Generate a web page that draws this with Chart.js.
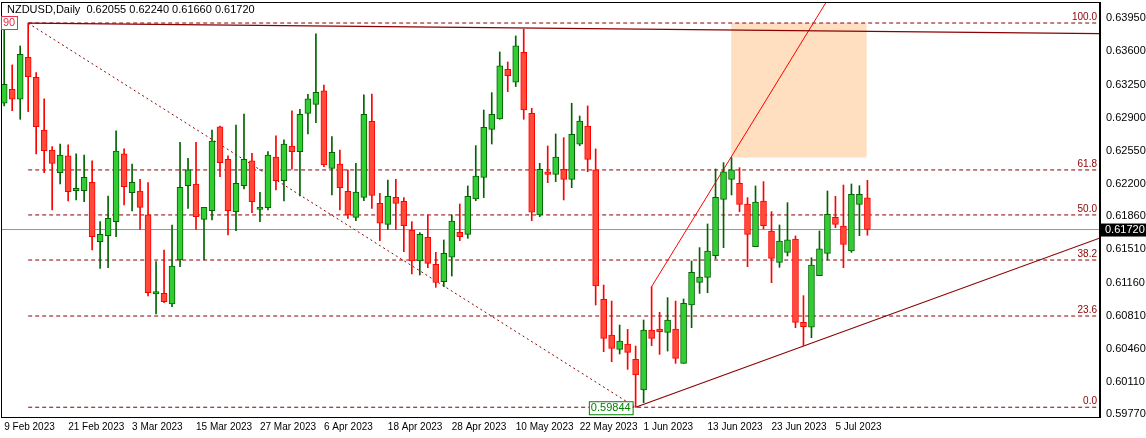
<!DOCTYPE html>
<html><head><meta charset="utf-8">
<script src="https://cdn.jsdelivr.net/npm/chart.js@4"></script>
<style>html,body{margin:0;padding:0;background:#fff}#w{width:1146px;height:438px}</style>
</head><body><div id="w"><canvas id="c"></canvas></div>
<script>
const title = "NZDUSD,Daily  0.62055 0.62240 0.61660 0.61720";
const opens = [.63053,.63201,.63095,.63539,.63327,.62771,.6256,.62321,.62497,.62131,.62131,.62219,.61592,.61655,.61803,.62518,.62109,.62127,.61874,.61039,.61046,.60934,.61398,.62183,.62201,.61828,.61919,.62803,.62461,.61909,.62183,.62444,.61933,.61951,.62486,.62236,.62602,.62542,.62947,.63042,.63183,.62366,.62412,.62124,.61849,.6206,.62863,.61997,.61775,.6206,.62018,.61715,.61388,.61638,.61353,.6117,.61427,.61691,.61669,.62043,.62271,.62778,.62887,.63412,.63275,.63591,.62947,.61874,.62328,.62303,.62356,.6225,.6262,.62813,.62349,.60983,.60606,.60455,.60511,.60349,.60026,.60659,.6067,.60635,.6067,.60307,.60923,.61163,.61215,.61444,.62039,.6225,.62208,.6199,.61539,.62021,.61705,.61374,.61479,.6162,.6074,.60688,.61233,.61469,.61849,.61757,.61493,.61986,.62055];
const highs = [.63898,.63458,.63658,.63898,.63377,.63099,.62595,.62623,.62613,.62518,.62507,.62444,.61803,.62074,.62761,.62571,.62412,.6225,.62215,.61381,.61504,.61768,.62641,.62472,.62641,.61954,.62771,.62813,.62497,.62824,.6294,.62525,.62113,.62542,.62708,.62666,.62972,.62989,.63148,.63785,.63246,.62701,.6256,.62349,.62419,.63141,.63151,.62102,.62243,.6225,.62057,.61803,.61687,.61874,.61479,.6161,.61874,.6199,.6218,.62606,.62982,.63165,.63595,.63489,.63764,.63834,.63,.62419,.62602,.62729,.6269,.63053,.62919,.63025,.62571,.61134,.60965,.60712,.60666,.6049,.60765,.61117,.60846,.61001,.60965,.60987,.61388,.61529,.61779,.62359,.62426,.62479,.62373,.62057,.6218,.62226,.61909,.61768,.62004,.61652,.61022,.61423,.61705,.62127,.6207,.6219,.62201,.62183,.6224];
const lows = [.63025,.62975,.62884,.62965,.62518,.62321,.61926,.62201,.62021,.62032,.62014,.61504,.6131,.61317,.61645,.61979,.61916,.61722,.61018,.60828,.60948,.60906,.61328,.61944,.61722,.61398,.61821,.62278,.61662,.61708,.62148,.61898,.61803,.61926,.62138,.62021,.62356,.62074,.62729,.62849,.62384,.62085,.61926,.61838,.61814,.62025,.61944,.61603,.61722,.61722,.61486,.61251,.6124,.61317,.6111,.61117,.61229,.61603,.61627,.62025,.62057,.62623,.62884,.63176,.63229,.62884,.61814,.61856,.62215,.62226,.62032,.62162,.62606,.62331,.60923,.6043,.60325,.60406,.60244,.59844,.59892,.60494,.60402,.60437,.60307,.60307,.60684,.61046,.61053,.61409,.61529,.62085,.61909,.61328,.61539,.61726,.61159,.61321,.61441,.60684,.60494,.60578,.61233,.61398,.6174,.61317,.61479,.61655,.6166];
const closes = [.63253,.63095,.6357,.63334,.62806,.62553,.62419,.62507,.6212,.62155,.62271,.61645,.61669,.61838,.62549,.62173,.62219,.61954,.61053,.61064,.60958,.61335,.62166,.62349,.61856,.61954,.62655,.62426,.61919,.62208,.62461,.62014,.61958,.62507,.62236,.62623,.62542,.62937,.63099,.63169,.62402,.62535,.62162,.61874,.62116,.62937,.62081,.61786,.6207,.61997,.61761,.61388,.61669,.61363,.61163,.61469,.6181,.61645,.6207,.62285,.62799,.62937,.63447,.63345,.63658,.62982,.61902,.62356,.62303,.62486,.6225,.62725,.62866,.62461,.61124,.60571,.60466,.60543,.60423,.60184,.60659,.60571,.60642,.60765,.6036,.60941,.61268,.61219,.61493,.6206,.62328,.62349,.61986,.61669,.62011,.61761,.61416,.61599,.6161,.6074,.60694,.61346,.61515,.61881,.61775,.61564,.62092,.62092,.6172];
const dateLabels = ["9 Feb 2023","21 Feb 2023","3 Mar 2023","15 Mar 2023","27 Mar 2023","6 Apr 2023","18 Apr 2023","28 Apr 2023","10 May 2023","22 May 2023","1 Jun 2023","13 Jun 2023","23 Jun 2023","5 Jul 2023"];
const dateTickIdx = [0,8,16,24,32,40,48,56,64,72,80,88,96,104];
const priceTicks = [0.63950,0.63600,0.63250,0.62900,0.62550,0.62200,0.61860,0.61510,0.61160,0.60810,0.60460,0.60110,0.59770];
const fibLevels = [0.6390,0.62349,0.61874,0.61398,0.60807,0.59844];
const fibNames = ["100.0","61.8","50.0","38.2","23.6","0.0"];
const fibStartIdx = 3;
const lastPrice = 0.6172;
const topLine = [{x:3,y:0.6390},{x:137.1,y:0.63789}];
const dottedTrend = [{x:3,y:0.63898},{x:79,y:0.59844}];
const steepLine = [{x:81,y:0.61117},{x:104,y:0.6428}];
const supportLine = [{x:79,y:0.59844},{x:137.1,y:0.61631}];
const zone = {x0:90.96,x1:107.9,y0:0.6390,y1:0.6248};
const lowLabel = "0.59844";

const FONT = "'Liberation Sans'";
const isUp = i => closes[i] >= opens[i];
const GREEN="#32CD32", GREEN_D="#006400", RED="#FF4A3A", RED_D="#FF0000", MAROON="#8B0000";
const wicks = opens.map((o,i)=>({x:i,y:[lows[i],highs[i]]}));
const bodies = opens.map((o,i)=>({x:i,y:[Math.min(o,closes[i]),Math.max(o,closes[i])]}));
const datasets = [];
fibLevels.forEach(v=>datasets.push({type:'line',data:[{x:fibStartIdx,y:v},{x:140,y:v}],borderColor:MAROON,borderWidth:1,borderDash:[4,3],pointRadius:0,order:5}));
datasets.push({type:'line',data:[{x:-2,y:lastPrice},{x:140,y:lastPrice}],borderColor:"#8C96A0",borderWidth:1,pointRadius:0,order:5});
datasets.push({type:'line',data:topLine,borderColor:MAROON,borderWidth:1.3,pointRadius:0,order:4});
datasets.push({type:'line',data:dottedTrend,borderColor:MAROON,borderWidth:1,borderDash:[2,3],pointRadius:0,order:4});
datasets.push({type:'line',data:steepLine,borderColor:"#FF0000",borderWidth:1,pointRadius:0,order:4});
datasets.push({type:'line',data:supportLine,borderColor:MAROON,borderWidth:1.2,pointRadius:0,order:4});
datasets.push({type:'bar',data:wicks,backgroundColor:wicks.map((d,i)=>isUp(i)?GREEN_D:RED_D),barThickness:1,grouped:false,order:3});
datasets.push({type:'bar',data:bodies,backgroundColor:bodies.map((d,i)=>isUp(i)?GREEN:RED),borderColor:bodies.map((d,i)=>isUp(i)?GREEN_D:RED_D),borderWidth:1,borderSkipped:false,barThickness:6,grouped:false,order:2,minBarLength:1});

const deco = {
  id:'deco',
  beforeDatasetsDraw(ch){
    const {ctx,scales:{x,y}} = ch;
    ctx.save();
    ctx.fillStyle="rgb(255,223,191)";
    const X0=x.getPixelForValue(zone.x0),X1=x.getPixelForValue(zone.x1),Y0=y.getPixelForValue(zone.y0),Y1=y.getPixelForValue(zone.y1);
    ctx.fillRect(X0,Y0,X1-X0,Y1-Y0);
    ctx.restore();
  },
  afterDraw(ch){
    const {ctx,chartArea:a,scales:{x,y}} = ch;
    ctx.save();
    ctx.strokeStyle="#000";ctx.lineWidth=1;
    ctx.strokeRect(a.left+0.5,a.top+0.5,a.right-a.left-1,a.bottom-a.top);
    ctx.font="11px "+FONT;ctx.fillStyle="#000";ctx.textBaseline="middle";ctx.textAlign="left";
    ctx.fillText(title,7,10);
    ctx.fillStyle=MAROON;ctx.textAlign="right";ctx.textBaseline="bottom";ctx.font="10px "+FONT;
    fibLevels.forEach((v,i)=>ctx.fillText(fibNames[i],a.right-3,y.getPixelForValue(v)-1));
    const py=y.getPixelForValue(lastPrice);
    ctx.fillStyle="#000";ctx.fillRect(a.right+1,py-6,45,13);
    ctx.fillStyle="#fff";ctx.textAlign="left";ctx.textBaseline="middle";ctx.font="11px "+FONT;
    ctx.fillText("0.61720",a.right+5,py+0.5);
    const lx=x.getPixelForValue(79),ly=y.getPixelForValue(0.59844);
    ctx.font="11px "+FONT;
    const w=ctx.measureText(lowLabel).width+4;
    ctx.fillStyle="#fff";ctx.fillRect(lx-w-3,ly-6,w,13);
    ctx.strokeStyle="#008000";ctx.strokeRect(lx-w-3+0.5,ly-6+0.5,w,13);
    ctx.fillStyle="#008000";ctx.fillText(lowLabel,lx-w-1,ly+1);
    const hy=y.getPixelForValue(0.6390);
    ctx.fillStyle="#fff";ctx.fillRect(a.left,hy-7,17,13);
    ctx.strokeStyle="#E0304A";ctx.strokeRect(a.left+0.5,hy-6.5,16,13);
    ctx.fillStyle="#E0304A";ctx.fillText("90",a.left+2,hy);
    ctx.restore();
  }
};

new Chart(document.getElementById('c'),{
  type:'bar',
  data:{datasets},
  options:{
    responsive:true,maintainAspectRatio:false,animation:false,devicePixelRatio:1,
    layout:{padding:{top:2,left:1,right:0,bottom:0}},
    plugins:{legend:{display:false},tooltip:{enabled:false}},
    scales:{
      x:{type:'linear',min:-0.4,max:137.1,offset:false,grid:{display:false,drawTicks:false},border:{display:false},
        afterBuildTicks:s=>{s.ticks=dateTickIdx.map(v=>({value:v}));},
        afterFit:s=>{s.height=21;s.paddingLeft=0;s.paddingRight=0;},
        ticks:{autoSkip:false,maxRotation:0,align:'start',padding:4,color:'#000',font:{family:'Liberation Sans',size:10},
          callback:(v)=>{const k=dateTickIdx.indexOf(v);return k>=0?dateLabels[k]:'';}}},
      y:{type:'linear',position:'right',min:0.59741,max:0.64122,grid:{display:false,drawTicks:true,tickLength:3,color:'#000'},border:{display:true,color:'#000'},
        afterBuildTicks:s=>{s.ticks=priceTicks.map(v=>({value:v}));},
        afterFit:s=>{s.width=46;s.paddingTop=0;s.paddingBottom=0;},
        ticks:{autoSkip:false,padding:3,color:'#000',font:{family:'Liberation Sans',size:11},callback:v=>v.toFixed(5)}}
    }
  },
  plugins:[deco]
});
</script></body></html>
